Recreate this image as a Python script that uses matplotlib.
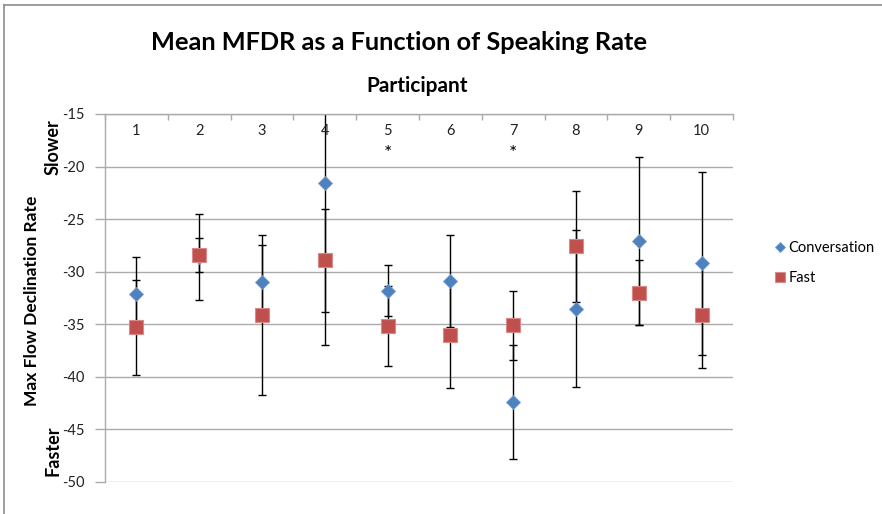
#!/usr/bin/env python3
"""Mean MFDR as a function of speaking rate, per participant."""

import matplotlib
matplotlib.use('Agg')
import matplotlib.pyplot as plt
from matplotlib.lines import Line2D
from matplotlib.transforms import blended_transform_factory

plt.rcParams['font.family'] = ['Lato', 'DejaVu Sans']

# Data
participants = [1, 2, 3, 4, 5, 6, 7, 8, 9, 10]
conv_mean = [-32.1, -28.6, -31.0, -21.6, -31.8, -30.9, -42.4, -33.5, -27.1, -29.2]
conv_err = [3.5, 4.1, 3.5, 15.4, 2.4, 4.35, 5.4, 7.5, 8.0, 8.7]
fast_mean = [-35.3, -28.4, -34.1, -28.9, -35.2, -36.0, -35.1, -27.6, -32.0, -34.1]
fast_err = [4.5, 1.6, 7.6, 4.9, 3.8, 5.1, 3.3, 5.3, 3.1, 5.05]
significant = [5, 7]
y_ticks = [-15, -20, -25, -30, -35, -40, -45, -50]

BLUE = '#4F81BD'
RED = '#C0504D'
GRID = '#ABABAB'

W, H = 882, 514
fig = plt.figure(figsize=(W / 100, H / 100), dpi=100)
fig.patch.set_facecolor('white')

# plot area in pixels: left 105, right 733, top 114, bottom 482
ax = fig.add_axes([105 / W, 1 - 482 / H, 628 / W, 368 / H])

# error bars first, below all markers
ax.errorbar(participants, conv_mean, yerr=conv_err, fmt='none', ecolor='black',
            elinewidth=1, capsize=3, capthick=1, zorder=2)
ax.errorbar(participants, fast_mean, yerr=fast_err, fmt='none', ecolor='black',
            elinewidth=1, capsize=3, capthick=1, zorder=2)

conv_line, = ax.plot(participants, conv_mean, linestyle='none', marker='D',
                     markersize=7.4, color=BLUE, markeredgecolor='#6F9AD0',
                     markeredgewidth=0.6, zorder=3, label='Conversation')
fast_line, = ax.plot(participants, fast_mean, linestyle='none', marker='s',
                     markersize=10.5, color=RED, markeredgecolor='#D98A88',
                     markeredgewidth=0.8, zorder=4, label='Fast')

ax.set_xlim(0.5, 10.5)
ax.set_ylim(-50, -15)

# horizontal gridlines
ax.set_yticks(y_ticks)
ax.set_yticklabels([str(v) for v in y_ticks])
ax.yaxis.grid(True, color=GRID, linewidth=1)
ax.set_axisbelow(True)
ax.tick_params(axis='y', direction='out', length=7, width=1, color=GRID,
               labelsize=10.5, pad=8, labelcolor='#222222')

# category axis sits at the top with small ticks between categories
ax.set_xticks([p - 0.5 for p in participants] + [participants[-1] + 0.5])
ax.set_xticklabels([])
ax.tick_params(axis='x', bottom=False, top=True, direction='in', length=4,
               width=1, color=GRID)

for side in ['right', 'bottom']:
    ax.spines[side].set_visible(False)
for side in ['left', 'top']:
    ax.spines[side].set_color(GRID)
    ax.spines[side].set_linewidth(1)

trans = blended_transform_factory(ax.transData, ax.transAxes)
for p in participants:
    ax.text(p, 0.953, str(p), transform=trans, ha='center', va='center',
            fontsize=10.5, color='#222222')
for p in significant:
    ax.text(p, 0.893, '*', transform=trans, ha='center', va='center',
            fontsize=14, color='black')

# titles and axis labels
fig.text(399 / W, 1 - 43 / H, 'Mean MFDR as a Function of Speaking Rate',
         ha='center', va='center', fontsize=18.3, fontweight='bold')
fig.text(417 / W, 1 - 86 / H, 'Participant', ha='center', va='center',
         fontsize=15, fontweight='bold')
fig.text(32 / W, 1 - 301 / H, 'Max Flow Declination Rate', ha='center',
         va='center', rotation=90, fontsize=12.5, fontweight='bold')
fig.text(53 / W, 1 - 147 / H, 'Slower', ha='center', va='center',
         rotation=90, fontsize=13, fontweight='bold')
fig.text(53 / W, 1 - 451 / H, 'Faster', ha='center', va='center',
         rotation=90, fontsize=13, fontweight='bold')

fig.legend(handles=[conv_line, fast_line], loc='center left',
           bbox_to_anchor=(762 / W, 1 - 263 / H), frameon=False,
           fontsize=10.5, handlelength=0.6, handletextpad=0.3,
           labelspacing=1.1, markerscale=0.75)

# outer frame lines (top and left edges of the screenshot)
fig.add_artist(Line2D([4 / W, 1], [1 - 5 / H, 1 - 5 / H], color='#8C8C8C',
                      linewidth=1.2, transform=fig.transFigure))
fig.add_artist(Line2D([4 / W, 4 / W], [0, 1 - 5 / H], color='#8C8C8C',
                      linewidth=1.2, transform=fig.transFigure))

fig.savefig('out.png', dpi=100)
